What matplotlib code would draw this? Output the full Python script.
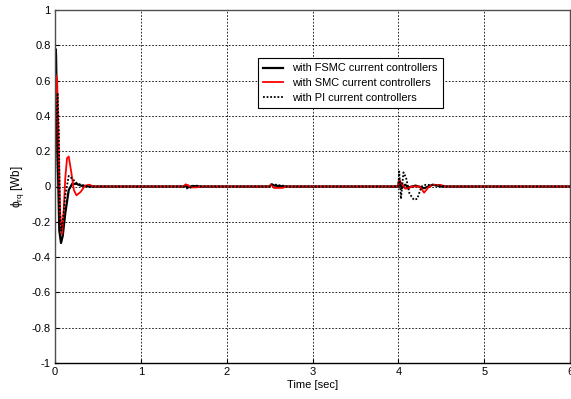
import matplotlib
matplotlib.use("Agg")
import matplotlib.pyplot as plt

plt.rcParams['font.family'] = ['Liberation Sans', 'DejaVu Sans']
plt.rcParams['mathtext.fontset'] = 'custom'
plt.rcParams['mathtext.rm'] = 'Liberation Sans'
plt.rcParams['mathtext.it'] = 'Liberation Sans'

# FSMC (black solid)
t_fsmc = [0, 0.005, 0.012, 0.03, 0.05, 0.07, 0.09, 0.12, 0.16, 0.2, 0.25, 0.3, 0.4,
          1.5, 1.52, 1.55, 1.6, 1.7, 2.5, 2.52, 2.56, 2.62, 2.7,
          4.0, 4.01, 4.04, 4.08, 4.12, 4.2, 4.3, 4.4, 4.5, 6.0]
v_fsmc = [0, 0.78, 0.75, 0.2, -0.25, -0.32, -0.28, -0.15, -0.02, 0.015, 0.015, 0.005, 0,
          0, 0.005, -0.005, 0.003, 0, 0, 0.012, 0.005, 0.002, 0,
          0, 0.04, -0.01, 0.01, -0.005, 0.005, -0.01, 0.01, 0, 0]

# SMC (red)
t_smc = [0, 0.005, 0.015, 0.025, 0.04, 0.06, 0.08, 0.1, 0.12, 0.14, 0.16, 0.19, 0.22, 0.25,
         0.3, 0.35, 0.4, 0.45,
         1.5, 1.52, 1.55, 1.58, 1.65, 1.7,
         2.5, 2.52, 2.55, 2.65, 2.7,
         4.0, 4.01, 4.05, 4.08, 4.12, 4.15, 4.25, 4.3, 4.35, 4.4, 4.5, 4.55, 6.0]
v_smc = [0, 0.3, 0.63, 0.6, 0.3, -0.15, -0.27, -0.15, 0.05, 0.16, 0.17, 0.08, -0.02, -0.05,
         -0.03, 0.005, 0.01, 0,
         0, 0.012, 0.008, -0.005, -0.005, 0,
         0, 0.012, -0.008, -0.008, 0,
         0, 0.035, 0.01, -0.012, -0.01, 0, 0, -0.035, -0.005, 0.01, 0.008, 0, 0]

# PI (black dotted)
t_pi = [0, 0.01, 0.03, 0.045, 0.055, 0.07, 0.09, 0.12, 0.16, 0.2, 0.25, 0.3, 0.4,
        1.5, 1.52, 1.56, 1.6, 1.65, 1.7,
        2.5, 2.52, 2.55, 2.6, 2.65, 2.7,
        4.0, 4.01, 4.03, 4.06, 4.09, 4.13, 4.18, 4.22, 4.27, 4.32, 4.5, 4.55, 6.0]
v_pi = [0, 0.3, 0.53, 0.3, -0.1, -0.25, -0.2, -0.05, 0.06, 0.045, 0.02, 0.01, 0,
        0, -0.01, -0.01, 0, 0.005, 0,
        0, 0.01, 0.012, 0.008, 0.005, 0,
        0, 0.085, -0.07, 0.08, 0.05, -0.04, -0.075, -0.07, 0, 0.01, 0.005, 0, 0]

labels = ["with FSMC current controllers", "with SMC current controllers",
          "with PI current controllers"]
xticks = [0, 1, 2, 3, 4, 5, 6]
yticks = [-1, -0.8, -0.6, -0.4, -0.2, 0, 0.2, 0.4, 0.6, 0.8, 1]
yticklabels = ["-1", "-0.8", "-0.6", "-0.4", "-0.2", "0", "0.2", "0.4", "0.6", "0.8", "1"]

fig = plt.figure(figsize=(5.71, 3.99), dpi=100)
ax = fig.add_axes([55/571, 1 - 363/399, (570-55)/571, (363-10)/399])

ax.plot(t_fsmc, v_fsmc, color='black', lw=1.6, label=labels[0])
ax.plot(t_smc, v_smc, color='red', lw=1.3, label=labels[1])
ax.plot(t_pi, v_pi, color='black', lw=1.3, linestyle=(0, (1, 1)), label=labels[2])

ax.set_xlim(0, 6)
ax.set_ylim(-1, 1)
ax.set_xticks(xticks)
ax.set_xticklabels([str(x) for x in xticks])
ax.set_yticks(yticks)
ax.set_yticklabels(yticklabels)
ax.grid(True, color='black', linestyle=(0, (2, 2)), linewidth=0.6)
ax.tick_params(direction='in', length=3, labelsize=8, colors='black', pad=3)
for s in ['top', 'right', 'left']:
    ax.spines[s].set_color('#505050')
    ax.spines[s].set_linewidth(1.0)
ax.spines['bottom'].set_color('black')
ax.spines['bottom'].set_linewidth(1.0)

ax.set_xlabel("Time [sec]", fontsize=8, labelpad=2)
ax.set_ylabel(r"$\phi_{rq}$ [Wb]", fontsize=8.5, labelpad=4)

leg = ax.legend(loc='upper left', bbox_to_anchor=(0.394, 0.864), fontsize=7.9,
                frameon=True, fancybox=False, shadow=False, handlelength=1.8,
                borderpad=0.5, labelspacing=0.42, handletextpad=0.8, borderaxespad=0)
leg.get_frame().set_edgecolor('black')
leg.get_frame().set_linewidth(0.8)
leg.get_frame().set_alpha(1)

fig.savefig("out.png", dpi=100)
